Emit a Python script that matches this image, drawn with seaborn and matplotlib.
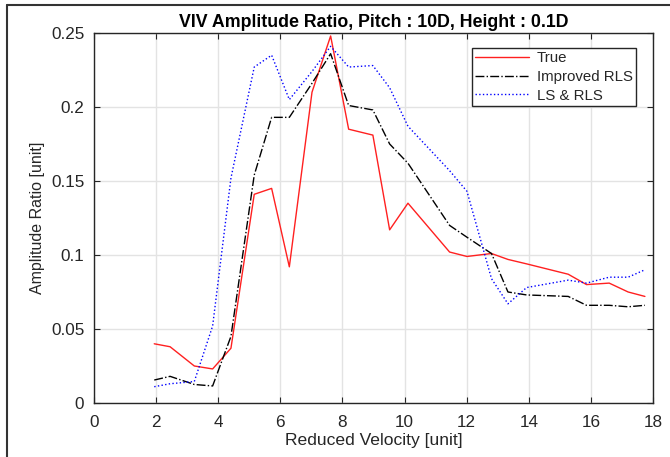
import numpy as np
import pandas as pd
import matplotlib
matplotlib.use('Agg')
import matplotlib.pyplot as plt
from matplotlib.ticker import FuncFormatter
from matplotlib.lines import Line2D
import seaborn as sns

# reduced velocity (x) 
velocity = [1.94, 2.45, 3.23, 3.82, 4.41, 5.16, 5.72, 6.29, 7.02, 7.62, 8.20, 8.98,
            9.52, 10.11, 11.45, 12.01, 12.80, 13.33, 13.93, 15.27, 15.86, 16.59, 17.20, 17.74]

# amplitude ratio per method
amp_true = [0.040, 0.038, 0.025, 0.023, 0.037, 0.141, 0.145, 0.092, 0.210, 0.248, 0.185, 0.181,
            0.117, 0.135, 0.102, 0.099, 0.101, 0.097, 0.094, 0.087, 0.080, 0.081, 0.075, 0.072]
amp_improved = [0.0155, 0.018, 0.0125, 0.0115, 0.045, 0.154, 0.193, 0.193, 0.216, 0.236, 0.201, 0.198,
                0.175, 0.162, 0.120, 0.112, 0.101, 0.075, 0.073, 0.072, 0.066, 0.066, 0.065, 0.066]
amp_lsrls = [0.011, 0.013, 0.0145, 0.052, 0.152, 0.227, 0.235, 0.205, 0.224, 0.241, 0.227, 0.228,
             0.213, 0.187, 0.157, 0.143, 0.084, 0.067, 0.078, 0.083, 0.081, 0.085, 0.085, 0.090]

labels = ['True', 'Improved RLS', 'LS & RLS']

sns.set_theme(style='whitegrid')
plt.rcParams['font.family'] = ['Liberation Sans', 'DejaVu Sans']

fig = plt.figure(figsize=(6.7, 4.57), dpi=100)
ax = fig.add_axes([0.1403, 0.1182, 0.8343, 0.8096])

df = pd.DataFrame({'v': velocity, 'true': amp_true, 'imp': amp_improved, 'ls': amp_lsrls})

sns.lineplot(data=df, x='v', y='true', ax=ax, color='#ff2020', lw=1.0, ls='-', label=labels[0], sort=False)
sns.lineplot(data=df, x='v', y='imp', ax=ax, color='black', lw=1.0, ls='-.', label=labels[1], sort=False)
sns.lineplot(data=df, x='v', y='ls', ax=ax, color='#0000ff', lw=1.0, ls=':', label=labels[2], sort=False)

ax.set_xlim(0, 18)
ax.set_ylim(0, 0.25)
ax.set_xticks(np.arange(0, 19, 2))
ax.set_yticks([0, 0.05, 0.1, 0.15, 0.2, 0.25])
ax.yaxis.set_major_formatter(FuncFormatter(lambda v, p: '%g' % v))

ax.grid(True, color='#e3e3e3', lw=1.0)
for s in ax.spines.values():
    s.set_visible(True)
    s.set_color('#262626')
    s.set_linewidth(1.0)
ax.tick_params(direction='in', length=4, width=0.8, color='#262626',
               top=True, right=True, bottom=True, left=True,
               labelsize=12.3, labelcolor='#262626')
ax.tick_params(axis='x', pad=9)
ax.tick_params(axis='y', pad=7)

ax.set_title('VIV Amplitude Ratio, Pitch : 10D, Height : 0.1D', fontsize=12.8,
             fontweight='bold', color='black', pad=4)
ax.set_xlabel('Reduced Velocity [unit]', fontsize=12.6, color='#262626', labelpad=2)
ax.set_ylabel('Amplitude Ratio [unit]', fontsize=11.5, color='#262626', labelpad=4)

leg = ax.legend(loc='upper right', bbox_to_anchor=(0.9696, 0.9595), borderaxespad=0,
                fontsize=10.8, fancybox=False, framealpha=1, edgecolor='#262626',
                handlelength=3.6, handletextpad=0.5, borderpad=0.2, labelspacing=0.32)
leg.get_frame().set_linewidth(1.0)

# outer frame (top and left only visible)
fig.add_artist(Line2D([0.0104, 0.0104], [0, 0.989], color='#333333', lw=1.5))
fig.add_artist(Line2D([0.0104, 1], [0.989, 0.989], color='#333333', lw=1.5))

plt.savefig('out.png', dpi=100)
